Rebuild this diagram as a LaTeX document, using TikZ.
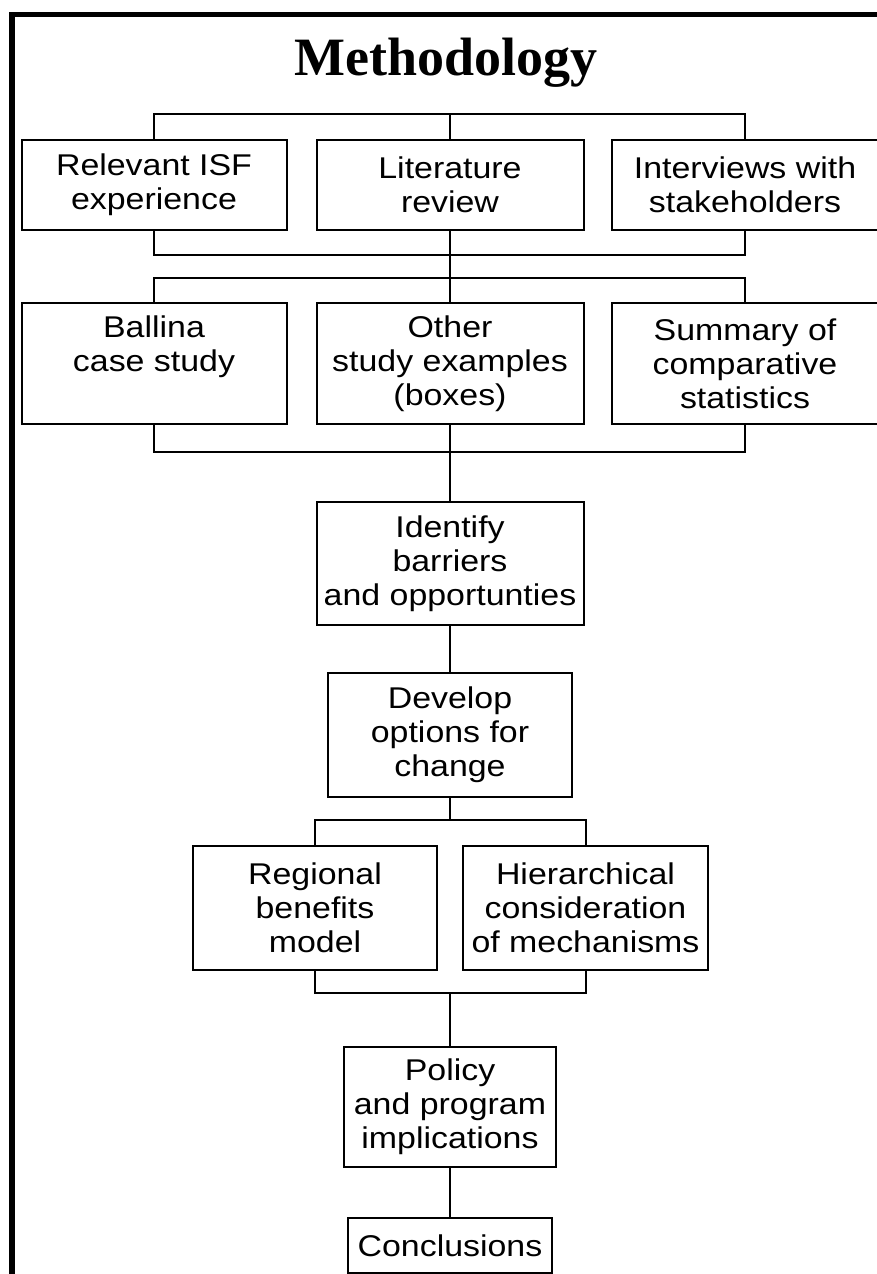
\documentclass[tikz,border=0pt]{standalone}
\usepackage{fontspec}
\newfontfamily\boxfont[FakeStretch=1.13]{Liberation Sans}
\newfontfamily\titlefont{Liberation Serif}
\begin{document}
\begin{tikzpicture}[x=1pt,y=-1pt,
  stepbox/.style={draw, line width=2pt, rectangle, inner sep=0pt, align=center,
    font=\boxfont\fontsize{30}{34}\selectfont},
  conn/.style={line width=2pt, line join=miter}]
\useasboundingbox (0,0) rectangle (876,1274);
% frame
\draw[line width=5.5pt] (12,1290) -- (12,14.5) -- (900,14.5);
% title
\node[anchor=base, inner sep=0pt, font=\titlefont\bfseries\fontsize{54}{60}\selectfont] (title) at (446,75) {Methodology};
% row 1
\node[stepbox, minimum width=265pt, minimum height=89.5pt] (isf) at (154,184.75) {Relevant ISF\\experience};
\node[stepbox, minimum width=267pt, minimum height=89.5pt] (lit) at (450,184.75) {Literature\\review};
\node[stepbox, minimum width=266pt, minimum height=89.5pt] (int) at (745,184.75) {Interviews with\\stakeholders};
% row 2
\node[stepbox, minimum width=265pt, minimum height=121pt] (bal) at (154,363.5) {Ballina\\case study\\\phantom{(boxes)}};
\node[stepbox, minimum width=267pt, minimum height=121pt] (oth) at (450,363.5) {Other\\study examples\\(boxes)};
\node[stepbox, minimum width=266pt, minimum height=121pt] (sum) at (745,363.5) {Summary of\\comparative\\statistics};
% single column
\node[stepbox, minimum width=267pt, minimum height=123pt] (idn) at (450,563.5) {Identify\\barriers\\and opportunties};
\node[stepbox, minimum width=244pt, minimum height=124pt] (dev) at (450,735) {Develop\\options for\\change};
% row 3
\node[stepbox, minimum width=244pt, minimum height=124pt] (reg) at (315,908) {Regional\\benefits\\model};
\node[stepbox, minimum width=245pt, minimum height=124pt] (hie) at (585.5,908) {Hierarchical\\consideration\\of mechanisms};
% bottom
\node[stepbox, minimum width=212pt, minimum height=120pt] (pol) at (450,1107) {Policy\\and program\\implications};
\node[stepbox, minimum width=204pt, minimum height=55pt] (con) at (450,1245.5) {Conclusions};
% junction coordinates
\coordinate (t1) at (450,114);
\coordinate (b1) at (450,255);
\coordinate (t2) at (450,278);
\coordinate (b2) at (450,452);
\coordinate (t3) at (450,820);
\coordinate (b3) at (450,993);
% connectors
\draw[conn] (isf.north) |- (t1) -| (int.north);
\draw[conn] (lit.north) -- (t1);
\draw[conn] (isf.south) |- (b1) -| (int.south);
\draw[conn] (lit.south) -- (t2);
\draw[conn] (bal.north) |- (t2) -| (sum.north);
\draw[conn] (oth.north) -- (t2);
\draw[conn] (bal.south) |- (b2) -| (sum.south);
\draw[conn] (oth.south) -- (idn.north);
\draw[conn] (idn.south) -- (dev.north);
\draw[conn] (dev.south) -- (t3);
\draw[conn] (reg.north) |- (t3) -| (hie.north);
\draw[conn] (reg.south) |- (b3) -| (hie.south);
\draw[conn] (b3) -- (pol.north);
\draw[conn] (pol.south) -- (con.north);
\end{tikzpicture}
\end{document}
